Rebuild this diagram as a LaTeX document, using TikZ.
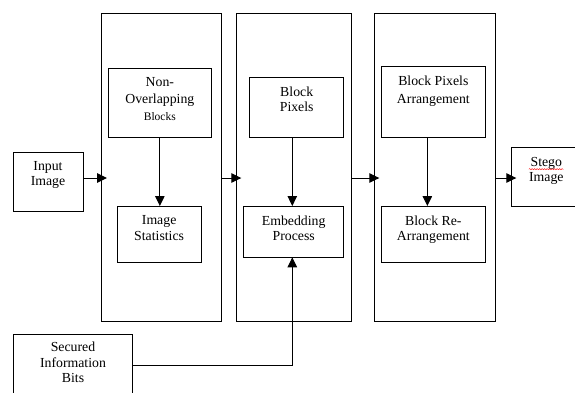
\documentclass[tikz,border=0pt]{standalone}
\usepackage{fontspec}
\setmainfont{Liberation Serif}
\usetikzlibrary{positioning,arrows.meta,decorations.pathmorphing}
\begin{document}
\begin{tikzpicture}[x=1pt,y=-1pt,
    box/.style={draw,line width=1pt,outer sep=0pt,inner sep=0pt,anchor=north west},
    lbl/.style={align=center,inner sep=0pt,font=\fontsize{13.8}{15.5}\selectfont},
    flowarrow/.style={line width=1pt,-{Triangle[length=10pt,width=9.5pt]}}]
  \useasboundingbox (0,0) rectangle (575,392);
  \clip (0,0) rectangle (575,392);
  % stage frames
  \node[box,minimum width=120.7pt,minimum height=307.7pt] (s1) at (101,13.3) {};
  \node[box,minimum width=114.7pt,minimum height=307.7pt] (s2) at (236.3,13.3) {};
  \node[box,minimum width=120.7pt,minimum height=307.7pt] (s3) at (374.3,13.3) {};
  % blocks
  \node[box,minimum width=70pt,minimum height=59.7pt] (inimg) at (13,152) {};
  \node[box,minimum width=103.7pt,minimum height=69.7pt] (nob) at (108,68) {};
  \node[box,minimum width=83.7pt,minimum height=56.3pt] (stat) at (117.3,206) {};
  \node[box,minimum width=94pt,minimum height=60pt] (bpix) at (249.7,77.7) {};
  \node[box,minimum width=100pt,minimum height=51.3pt] (embed) at (243.7,206) {};
  \node[box,minimum width=103.3pt,minimum height=71pt] (bpa) at (381.7,66.7) {};
  \node[box,minimum width=103.3pt,minimum height=56.3pt] (bra) at (381.7,206) {};
  \node[box,minimum width=70pt,minimum height=58.3pt] (stego) at (511.3,147.7) {};
  \node[box,minimum width=119.4pt,minimum height=62pt] (secbits) at (13.3,334) {};
  % texts
  \node[lbl,below=9pt of inimg.north] (inimgt) {Input\\Image};
  \node[lbl,below=9pt of nob.north] (nobt) {Non-\\[1.5pt]Overlapping\\[1.5pt]{\fontsize{11.5}{13}\selectfont Blocks}};
  \node[lbl,below=9.5pt of stat.north] (statt) {Image\\Statistics};
  \node[lbl,below=9pt of bpix.north] (bpixt) {Block\\Pixels};
  \node[lbl,below=9.5pt of embed.north] (embedt) {Embedding\\Process};
  \node[lbl,below=9pt of bpa.north] (bpat) {Block Pixels\\[3pt]Arrangement};
  \node[lbl,below=9.5pt of bra.north] (brat) {Block Re-\\Arrangement};
  \node[lbl,below=9pt of stego.north] (stegot) {Stego\\Image};
  \node[lbl,below=8pt of secbits.north] (secbitst) {Secured\\Information\\Bits};
  \draw[red,line width=0.4pt,decorate,decoration={snake,amplitude=0.6pt,segment length=2.5pt}]
    ([yshift=-12.5pt]stegot.north west) -- ([yshift=-12.5pt]stegot.north east);
  % connectors
  \coordinate (flow) at (0,178);
  \draw[flowarrow] (inimg.east |- flow) -- ([xshift=6pt]s1.west |- flow);
  \draw[flowarrow] (s1.east |- flow) -- ([xshift=5pt]s2.west |- flow);
  \draw[flowarrow] (s2.east |- flow) -- ([xshift=5pt]s3.west |- flow);
  \draw[flowarrow] (s3.east |- flow) -- ([xshift=5pt]stego.west |- flow);
  \draw[flowarrow] (nob.south) -- (nob.south |- stat.north);
  \draw[flowarrow] ([xshift=-1.4pt]embed.north |- bpix.south) -- ([xshift=-1.4pt]embed.north);
  \draw[flowarrow] ([xshift=-6pt]bpa.south) -- ([xshift=-6pt]bpa.south |- bra.north);
  \draw[flowarrow] (secbits.east) -| ([xshift=-1.4pt]embed.south);
\end{tikzpicture}
\end{document}
